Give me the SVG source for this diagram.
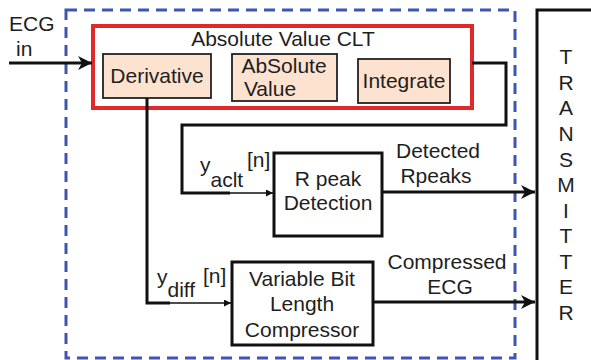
<svg xmlns="http://www.w3.org/2000/svg" width="591" height="360" viewBox="0 0 591 360">
<style>
text{font-family:"Liberation Sans",Arial,sans-serif;font-size:21px;fill:#1e1e1e}
.c{text-anchor:middle}
.blk{fill:#fff;stroke:#111;stroke-width:3}
.sb{fill:#fde2cf;stroke:#222;stroke-width:1.8}
.wire{fill:none;stroke:#111;stroke-width:3}
.thin{fill:none;stroke:#111;stroke-width:1.5}
</style>
<defs>
<marker id="big" viewBox="0 0 14 14" refX="14" refY="7" markerWidth="14" markerHeight="14" markerUnits="userSpaceOnUse" orient="auto"><path d="M0,0 L14,7 L0,14 L4,7 Z" fill="#111"/></marker>
<marker id="sm" viewBox="0 0 8 8" refX="8" refY="4" markerWidth="7" markerHeight="7" markerUnits="userSpaceOnUse" orient="auto"><path d="M0,0 L8,4 L0,8 Z" fill="#111"/></marker>
</defs>
<rect x="0" y="0" width="591" height="360" fill="#fff"/>
<g id="boundary"><rect x="66" y="10" width="449" height="348" fill="none" stroke="#3f55b5" stroke-width="3" stroke-dasharray="11,7"/></g>
<g id="transmitter">
<rect x="537" y="10" width="70" height="360" class="blk"/>
<text class="c" x="566" y="64">T</text><text class="c" x="566" y="90">R</text><text class="c" x="566" y="115">A</text><text class="c" x="566" y="141">N</text><text class="c" x="566" y="167">S</text><text class="c" x="566" y="192">M</text><text class="c" x="566" y="218">I</text><text class="c" x="566" y="243">T</text><text class="c" x="566" y="269">T</text><text class="c" x="566" y="294">E</text><text class="c" x="566" y="320">R</text>
</g>
<g id="clt">
<rect x="93" y="26" width="379" height="82" fill="#fff" stroke="#e02a2a" stroke-width="4"/>
<text class="c" x="283" y="46">Absolute Value CLT</text>
</g>
<g id="derivative"><rect x="103" y="54" width="108" height="44" class="sb"/><text class="c" x="157" y="83">Derivative</text></g>
<g id="absval"><rect x="232" y="54" width="105" height="47" class="sb"/><text class="c" x="284" y="73">AbSolute</text><text class="c" x="270" y="96">Value</text></g>
<g id="integrate"><rect x="358" y="59" width="92" height="44" class="sb"/><text class="c" x="404" y="88">Integrate</text></g>
<g id="rpeak"><rect x="274" y="153" width="108" height="83" class="blk"/><text class="c" x="328" y="186">R peak</text><text class="c" x="328" y="210">Detection</text></g>
<g id="compressor"><rect x="232" y="262" width="141" height="83" class="blk"/><text class="c" x="302" y="286">Variable Bit</text><text class="c" x="302" y="311">Length</text><text class="c" x="302" y="337">Compressor</text></g>
<g id="connectors">
<line x1="9" y1="63" x2="92" y2="63" class="wire" marker-end="url(#big)"/>
<polyline points="472,63 506,63 506,125 182,125 182,193 230,193" class="wire"/>
<line x1="228" y1="193" x2="273" y2="193" class="thin" marker-end="url(#sm)"/>
<polyline points="147,98 147,303 170,303" class="wire"/>
<line x1="168" y1="303" x2="231" y2="303" class="thin" marker-end="url(#sm)"/>
<line x1="382" y1="192" x2="535" y2="192" class="wire" marker-end="url(#big)"/>
<line x1="373" y1="302" x2="535" y2="302" class="wire" marker-end="url(#big)"/>
</g>
<g id="labels">
<text x="9" y="31">ECG</text><text x="16" y="56">in</text>
<text x="200" y="172">y<tspan dy="15">aclt</tspan></text><text x="247" y="167">[n]</text>
<text x="157" y="284">y<tspan dy="13">diff</tspan></text><text x="203" y="283">[n]</text>
<text class="c" x="438" y="158">Detected</text><text class="c" x="436" y="183">Rpeaks</text>
<text class="c" x="447" y="269">Compressed</text><text class="c" x="450" y="294">ECG</text>
</g>
</svg>
